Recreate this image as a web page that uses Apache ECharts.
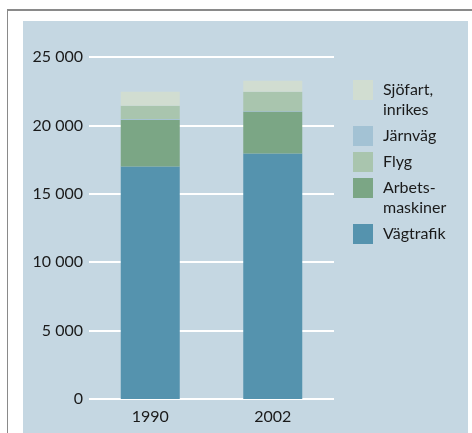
<!DOCTYPE html>
<html>
<head>
<meta charset="utf-8">
<script src="https://cdn.jsdelivr.net/npm/echarts@6/dist/echarts.min.js"></script>
<style>
  body { margin: 0; background: #fff; }
  #frame { position: absolute; left: 7px; top: 9px; width: 465px; height: 424px;
           border-top: 2px solid #8a8a8a; border-left: 1px solid #8a8a8a; box-sizing: border-box; }
  #panel { position: absolute; left: 23px; top: 21px; width: 445px; height: 412px; background: #c5d7e2; }
  #chart { position: absolute; left: 0; top: 0; width: 472px; height: 433px; }
</style>
</head>
<body>
<div id="frame"></div>
<div id="panel"></div>
<div id="chart"></div>
<script>
// Chart data
const years = ['1990', '2002']
const vagtrafik = [17000, 17950]
const arbetsmaskiner = [3420, 3060]
const jarnvag = [50, 50]
const flyg = [970, 1400]
const sjofart = [1020, 800]

const colors = {
  'Vägtrafik': '#5593ae',
  'Arbets-\nmaskiner': '#7ba685',
  'Järnväg': '#a3c2d4',
  'Flyg': '#a9c5ae',
  'Sjöfart,\ninrikes': '#d1ddd1',
}

const font = 'Lato, "Open Sans", sans-serif'
const chart = echarts.init(document.getElementById('chart'))

const makeSeries = (name, data) => ({
  name,
  type: 'bar',
  stack: 'total',
  barWidth: 59,
  data,
  itemStyle: { color: colors[name] },
})

// two legend blocks so the wrapped names keep their first line level with the swatch
const makeLegend = (top, names) => ({
  orient: 'vertical',
  left: 353,
  top,
  padding: 0,
  itemGap: 6,
  itemWidth: 20,
  itemHeight: 20,
  icon: 'rect',
  formatter: (name) => (name.includes('\n') ? '\n' + name : name),
  textStyle: {
    fontFamily: font,
    fontSize: 16,
    lineHeight: 20,
    color: '#1a1a1a',
    padding: [0, 0, 0, 5],
  },
  data: names,
})

const option = {
  backgroundColor: 'transparent',
  animation: false,
  textStyle: { fontFamily: font },
  grid: {
    left: 89,
    right: 138,
    top: 57,
    bottom: 34,
  },
  legend: [
    makeLegend(60, ['Sjöfart,\ninrikes', 'Järnväg', 'Flyg']),
    makeLegend(158, ['Arbets-\nmaskiner', 'Vägtrafik']),
  ],
  xAxis: {
    type: 'category',
    data: years,
    axisLine: { show: false },
    axisTick: { show: false },
    axisLabel: {
      color: '#1a1a1a',
      fontFamily: font,
      fontSize: 16,
      margin: 10,
    },
  },
  yAxis: {
    type: 'value',
    min: 0,
    max: 25000,
    interval: 5000,
    axisLine: { show: false },
    axisTick: { show: false },
    axisLabel: {
      color: '#1a1a1a',
      fontFamily: font,
      fontSize: 16,
      margin: 6,
      formatter: (v) => String(v).replace(/\B(?=(\d{3})+(?!\d))/g, ' '),
    },
    splitLine: {
      lineStyle: { color: '#ffffff', width: 2 },
    },
  },
  series: [
    makeSeries('Vägtrafik', vagtrafik),
    makeSeries('Arbets-\nmaskiner', arbetsmaskiner),
    makeSeries('Järnväg', jarnvag),
    makeSeries('Flyg', flyg),
    makeSeries('Sjöfart,\ninrikes', sjofart),
  ],
}

chart.setOption(option)
</script>
</body>
</html>
